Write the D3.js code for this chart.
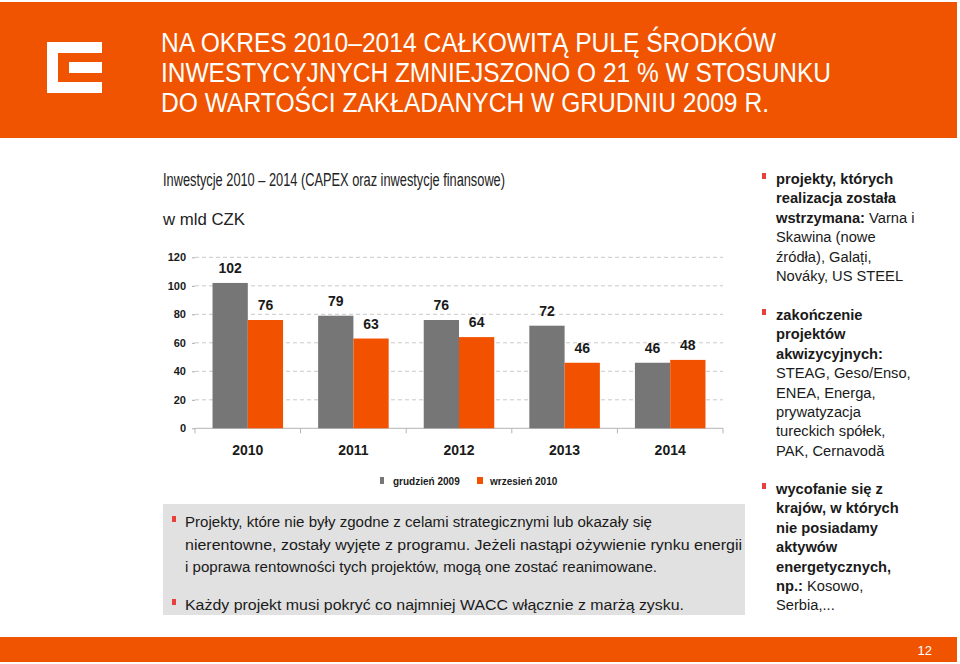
<!DOCTYPE html>
<html>
<head>
<meta charset="utf-8">
<script src="https://cdn.jsdelivr.net/npm/d3@7"></script>
<style>
  body { margin: 0; background: #fff; }
  svg { display: block; font-family: "Liberation Sans", Arial, sans-serif; }
</style>
</head>
<body>
<svg id="chart"></svg>
<script>
// colors
const orange = '#f25200';
const headerOrange = '#f05400';
const barGray = '#767676';
const gridColor = '#c9c9c9';
const bulletRed = '#e8403a';
const textColor = '#1a1a1a';

// data
const years = ['2010', '2011', '2012', '2013', '2014'];
const dec2009 = [102, 79, 76, 72, 46];
const sep2010 = [76, 63, 64, 46, 48];
const seriesNames = ['grudzień 2009', 'wrzesień 2010'];
const yTicks = [0, 20, 40, 60, 80, 100, 120];

const width = 960;
const height = 664;

const svg = d3.select('#chart')
    .attr('width', width)
    .attr('height', height);

// header band
svg.append('rect')
    .attr('x', 0).attr('y', 2)
    .attr('width', 957).attr('height', 136)
    .attr('fill', headerOrange);

// logo
const logo = svg.append('g');
logo.append('rect').attr('x', 47).attr('y', 42).attr('width', 55).attr('height', 51).attr('fill', '#fff');
logo.append('rect').attr('x', 58).attr('y', 53).attr('width', 44).attr('height', 29).attr('fill', headerOrange);
logo.append('rect').attr('x', 69).attr('y', 62).attr('width', 33).attr('height', 11).attr('fill', '#fff');

const headerLines = [
    ['NA OKRES 2010–2014 CAŁKOWITĄ PULĘ ŚRODKÓW', 615],
    ['INWESTYCYJNYCH ZMNIEJSZONO O 21 % W STOSUNKU', 670],
    ['DO WARTOŚCI ZAKŁADANYCH W GRUDNIU 2009 R.', 608]
];
svg.append('g')
    .selectAll('text')
    .data(headerLines)
    .enter()
    .append('text')
    .attr('x', 161)
    .attr('y', (d, i) => 52 + i * 30)
    .attr('fill', '#fff')
    .attr('font-size', 27)
    .attr('textLength', d => d[1])
    .attr('lengthAdjust', 'spacingAndGlyphs')
    .text(d => d[0]);

// chart titles
svg.append('text')
    .attr('x', 163).attr('y', 186)
    .attr('font-size', 18)
    .attr('fill', '#222')
    .attr('textLength', 342).attr('lengthAdjust', 'spacingAndGlyphs')
    .text('Inwestycje 2010 – 2014 (CAPEX oraz inwestycje finansowe)');

svg.append('text')
    .attr('x', 163).attr('y', 225)
    .attr('font-size', 16)
    .attr('fill', '#222')
    .attr('textLength', 82).attr('lengthAdjust', 'spacingAndGlyphs')
    .text('w mld CZK');

// scales
const x0 = d3.scaleBand()
    .domain(years)
    .range([195, 723])
    .paddingInner(0.332)
    .paddingOuter(0.166);

const x1 = d3.scaleBand()
    .domain([0, 1])
    .range([0, x0.bandwidth()]);

const y = d3.scaleLinear()
    .domain([0, 120])
    .range([428.3, 257.3]);

// gridlines
svg.append('g')
    .selectAll('line')
    .data(yTicks.filter(t => t > 0))
    .enter()
    .append('line')
    .attr('x1', 195).attr('x2', 723)
    .attr('y1', d => y(d)).attr('y2', d => y(d))
    .attr('stroke', gridColor)
    .attr('stroke-dasharray', '4,3');

// y axis labels
const yAxis = svg.append('g')
    .attr('transform', 'translate(195,0)')
    .call(d3.axisLeft(y).tickValues(yTicks).tickSize(3).tickPadding(6));
yAxis.select('.domain').remove();
yAxis.selectAll('.tick line').attr('stroke', '#aaa');
yAxis.selectAll('.tick text')
    .attr('font-family', '"Liberation Sans", Arial, sans-serif')
    .attr('font-size', 11).attr('font-weight', 'bold')
    .attr('fill', textColor);

// x axis
const xAxisG = svg.append('g').attr('transform', `translate(0,${y(0)})`);
xAxisG.append('line')
    .attr('x1', 195).attr('x2', 723)
    .attr('stroke', '#b5b5b5');
const step = x0.step();
xAxisG.selectAll('.xtick')
    .data(d3.range(years.length + 1))
    .enter()
    .append('line')
    .attr('x1', i => 195 + i * step).attr('x2', i => 195 + i * step)
    .attr('y1', 0).attr('y2', 5)
    .attr('stroke', '#b5b5b5');
xAxisG.selectAll('.xlabel')
    .data(years)
    .enter()
    .append('text')
    .attr('x', d => x0(d) + x0.bandwidth() / 2)
    .attr('y', 27)
    .attr('text-anchor', 'middle')
    .attr('font-size', 14).attr('font-weight', 'bold')
    .attr('fill', textColor)
    .text(d => d);

// bars
const series = [dec2009, sep2010];
const colors = [barGray, orange];
series.forEach((vals, s) => {
    const g = svg.append('g');
    g.selectAll('rect')
        .data(vals)
        .enter()
        .append('rect')
        .attr('x', (d, i) => x0(years[i]) + x1(s))
        .attr('y', d => y(d))
        .attr('width', x1.bandwidth())
        .attr('height', d => y(0) - y(d))
        .attr('fill', colors[s]);
    g.selectAll('text')
        .data(vals)
        .enter()
        .append('text')
        .attr('x', (d, i) => x0(years[i]) + x1(s) + x1.bandwidth() / 2)
        .attr('y', d => y(d) - 10)
        .attr('text-anchor', 'middle')
        .attr('font-size', 14).attr('font-weight', 'bold')
        .attr('fill', textColor)
        .text(d => d);
});

// legend
const legendX = [380, 477];
seriesNames.forEach((name, s) => {
    svg.append('rect')
        .attr('x', legendX[s]).attr('y', 477)
        .attr('width', s === 0 ? 4 : 6).attr('height', 7)
        .attr('fill', colors[s]);
    svg.append('text')
        .attr('x', legendX[s] + 13).attr('y', 485)
        .attr('font-size', 10).attr('font-weight', 'bold')
        .attr('fill', textColor)
        .text(name);
});

// bottom gray box
svg.append('rect')
    .attr('x', 163).attr('y', 504)
    .attr('width', 582).attr('height', 111)
    .attr('fill', '#e1e1e1');

const boxLines = [
    ['Projekty, które nie były zgodne z celami strategicznymi lub okazały się', 527, true, 467],
    ['nierentowne, zostały wyjęte z programu. Jeżeli nastąpi ożywienie rynku energii', 550, false, 557],
    ['i poprawa rentowności tych projektów, mogą one zostać reanimowane.', 572, false, 472],
    ['Każdy projekt musi pokryć co najmniej WACC włącznie z marżą zysku.', 610, true, 499]
];
boxLines.forEach(([t, yy, bullet, len]) => {
    if (bullet) {
        svg.append('rect')
            .attr('x', 172).attr('y', yy - 11)
            .attr('width', 4).attr('height', 6)
            .attr('fill', bulletRed);
    }
    svg.append('text')
        .attr('x', 185).attr('y', yy)
        .attr('font-size', 15.5)
        .attr('fill', textColor)
        .attr('textLength', len).attr('lengthAdjust', 'spacingAndGlyphs')
        .text(t);
});

// right column
const rightBlocks = [
    [184, [
        [['projekty, których', true]],
        [['realizacja została', true]],
        [['wstrzymana: ', true], ['Varna i', false]],
        [['Skawina (nowe', false]],
        [['źródła), Galați,', false]],
        [['Nováky, US STEEL', false]]
    ]],
    [320, [
        [['zakończenie', true]],
        [['projektów', true]],
        [['akwizycyjnych:', true]],
        [['STEAG, Geso/Enso,', false]],
        [['ENEA, Energa,', false]],
        [['prywatyzacja', false]],
        [['tureckich spółek,', false]],
        [['PAK, Cernavodă', false]]
    ]],
    [494, [
        [['wycofanie się z', true]],
        [['krajów, w których', true]],
        [['nie posiadamy', true]],
        [['aktywów', true]],
        [['energetycznych,', true]],
        [['np.: ', true], ['Kosowo,', false]],
        [['Serbia,...', false]]
    ]]
];
rightBlocks.forEach(([y0, lines]) => {
    svg.append('rect')
        .attr('x', 762).attr('y', y0 - 11)
        .attr('width', 4).attr('height', 6)
        .attr('fill', bulletRed);
    lines.forEach((segs, li) => {
        const t = svg.append('text')
            .attr('x', 776).attr('y', y0 + li * 19.4)
            .attr('font-size', 14.7)
            .attr('fill', textColor);
        segs.forEach(([s, b]) => {
            t.append('tspan').attr('font-weight', b ? 'bold' : 'normal').text(s);
        });
    });
});

// footer band
svg.append('rect')
    .attr('x', 0).attr('y', 637)
    .attr('width', 957).attr('height', 25)
    .attr('fill', headerOrange);
svg.append('text')
    .attr('x', 932).attr('y', 655)
    .attr('text-anchor', 'end')
    .attr('font-size', 13)
    .attr('fill', '#fff')
    .text('12');
</script>
</body>
</html>
